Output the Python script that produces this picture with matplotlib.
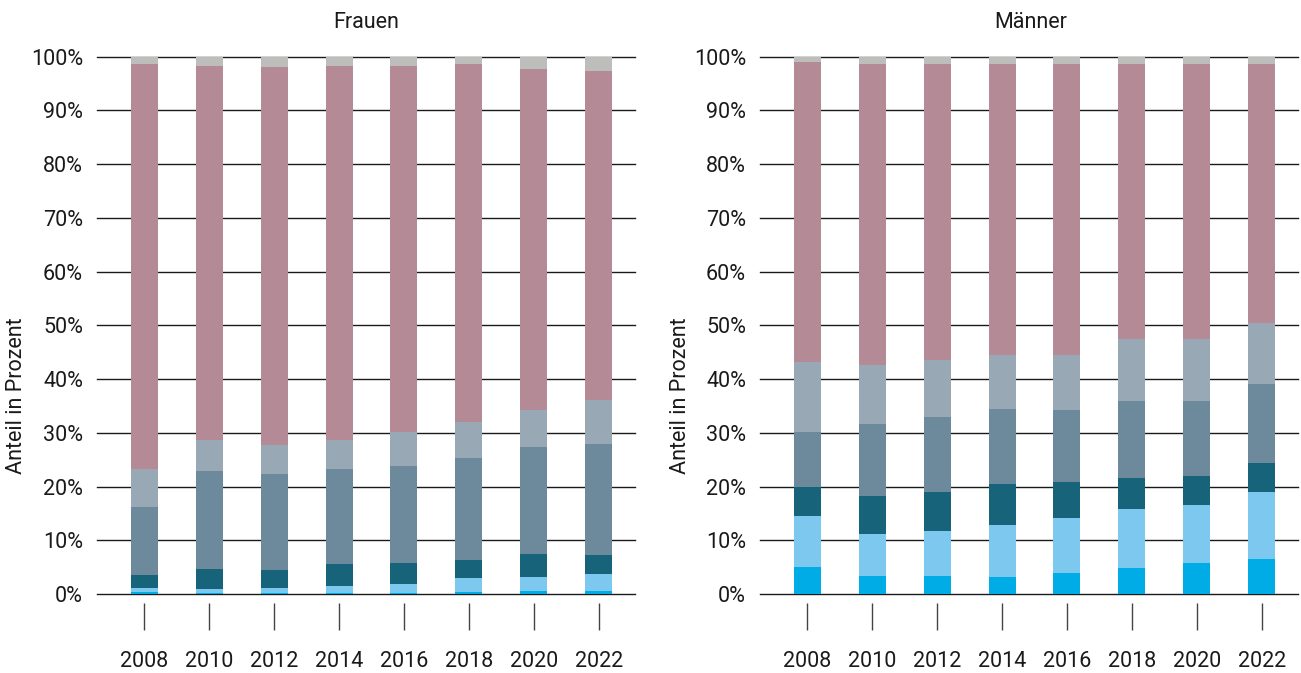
import matplotlib

matplotlib.use("Agg")
import matplotlib.pyplot as plt
import numpy as np

plt.rcParams["font.family"] = ["Roboto", "DejaVu Sans"]

YEARS = ["2008", "2010", "2012", "2014", "2016", "2018", "2020", "2022"]
PANEL_TITLES = ["Frauen", "Männer"]
Y_TICKS = [0, 10, 20, 30, 40, 50, 60, 70, 80, 90, 100]
Y_LABEL = "Anteil in Prozent"

# segment shares in percent, bottom to top
frauen_seg1 = [0.3, 0.25, 0.1, 0.25, 0.25, 0.45, 0.6, 0.6]
frauen_seg2 = [0.9, 0.75, 1.1, 1.15, 1.65, 2.45, 2.6, 3.2]
frauen_seg3 = [2.4, 3.7, 3.3, 4.1, 3.9, 3.5, 4.3, 3.5]
frauen_seg4 = [12.5, 18.1, 17.9, 17.7, 18.1, 19.0, 19.8, 20.7]
frauen_seg5 = [7.1, 5.8, 5.3, 5.4, 6.2, 6.6, 6.9, 8.1]
frauen_seg6 = [75.4, 69.6, 70.3, 69.6, 68.1, 66.6, 63.6, 61.3]
frauen_seg7 = [1.4, 1.8, 2.0, 1.8, 1.8, 1.4, 2.2, 2.6]

maenner_seg1 = [5.1, 3.4, 3.4, 3.2, 4.0, 4.9, 5.7, 6.6]
maenner_seg2 = [9.5, 7.8, 8.4, 9.7, 10.2, 11.0, 10.8, 12.3]
maenner_seg3 = [5.4, 7.1, 7.1, 7.5, 6.7, 5.6, 5.5, 5.4]
maenner_seg4 = [10.1, 13.3, 14.1, 14.1, 13.3, 14.5, 14.0, 14.7]
maenner_seg5 = [13.0, 11.1, 10.5, 9.9, 10.2, 11.4, 11.4, 11.4]
maenner_seg6 = [56.0, 55.9, 55.1, 54.2, 54.2, 51.2, 51.2, 48.2]
maenner_seg7 = [0.9, 1.4, 1.4, 1.4, 1.4, 1.4, 1.4, 1.4]

SEGMENT_COLORS = ["#00ace6", "#7dc8ee", "#17637a", "#6c8a9c", "#98a9b5", "#b48a96", "#bdbdbb"]

W, H = 1301, 673


def draw_panel(ax, segments):
    x = np.arange(len(YEARS))
    bottom = np.zeros(len(YEARS))
    for values, color in zip(segments, SEGMENT_COLORS):
        ax.bar(x, values, bottom=bottom, width=0.415, color=color, zorder=3)
        bottom += np.array(values)

    ax.set_xlim(-0.73, 7.56)
    ax.set_ylim(0, 100)
    ax.set_yticks(Y_TICKS)
    ax.set_yticklabels([f"{t}%" for t in Y_TICKS])
    for t in Y_TICKS:
        ax.axhline(t, color="#1a1a1a", linewidth=1.0, zorder=1, clip_on=False)
    ax.set_xticks(x)
    ax.set_xticklabels(YEARS)
    for side in ["top", "right", "left", "bottom"]:
        ax.spines[side].set_visible(False)
    ax.spines["bottom"].set_position(("outward", 6.5))
    ax.tick_params(axis="y", length=0, pad=10, labelsize=15.5, labelcolor="#1a1a1a")
    ax.tick_params(axis="x", length=19.5, width=1.0, color="#444444", pad=15,
                   labelsize=15.5, labelcolor="#1a1a1a")


fig = plt.figure(figsize=(W / 100, H / 100), dpi=100)
ax_left = fig.add_axes([97 / W, 79 / H, 538 / W, 537.3 / H])
ax_right = fig.add_axes([760 / W, 79 / H, 538 / W, 537.3 / H])

draw_panel(ax_left, [frauen_seg1, frauen_seg2, frauen_seg3, frauen_seg4,
                     frauen_seg5, frauen_seg6, frauen_seg7])
draw_panel(ax_right, [maenner_seg1, maenner_seg2, maenner_seg3, maenner_seg4,
                      maenner_seg5, maenner_seg6, maenner_seg7])

fig.text(366 / W, 1 - 23 / H, PANEL_TITLES[0], ha="center", va="center", fontsize=15.5, color="#1a1a1a")
fig.text(1031 / W, 1 - 23 / H, PANEL_TITLES[1], ha="center", va="center", fontsize=15.5, color="#1a1a1a")
fig.text(17 / W, 1 - 396 / H, Y_LABEL, rotation=90, ha="center", va="center", fontsize=15.5, color="#1a1a1a")
fig.text(680 / W, 1 - 396 / H, Y_LABEL, rotation=90, ha="center", va="center", fontsize=15.5, color="#1a1a1a")

fig.savefig("out.png", dpi=100)
